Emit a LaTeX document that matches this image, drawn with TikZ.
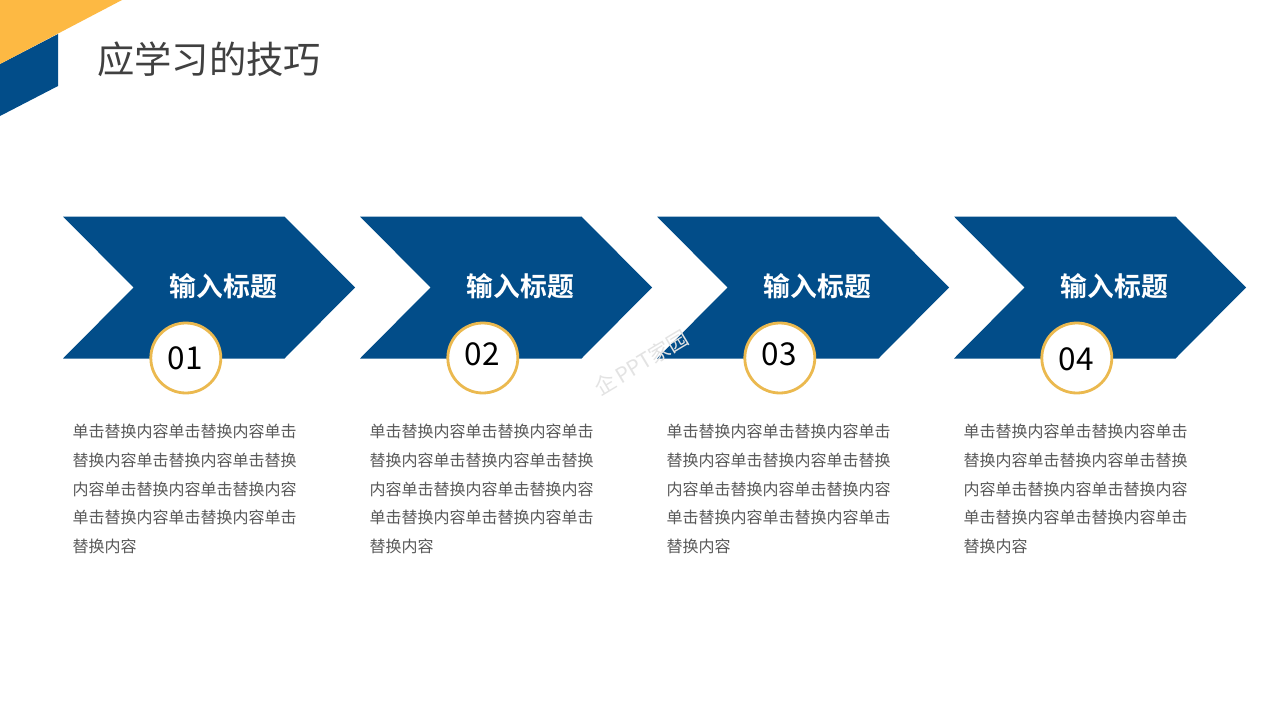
\documentclass[tikz,border=0pt]{standalone}
\usepackage{fontspec}
\setmainfont{Liberation Sans}
\newfontfamily\cjk{Noto Sans CJK SC}
\newfontfamily\cjkb{Noto Sans CJK SC Bold}
\definecolor{navy}{HTML}{024D89}
\definecolor{amber}{HTML}{FDB943}
\definecolor{ring}{HTML}{EBB94F}
\definecolor{ink}{HTML}{404040}
\definecolor{body}{HTML}{595959}
\tikzset{x=1pt,y=-1pt,
  chevron/.style={fill=navy,draw=none},
  heading/.style={text=white,font=\cjkb\fontsize{26.8}{30}\selectfont,inner sep=0pt},
  badge/.style={circle,draw=ring,line width=2.8pt,fill=white,minimum size=70pt,inner sep=0pt},
  num/.style={text=black,font=\cjk\fontsize{31.5}{36}\selectfont,inner sep=0pt},
  bodytext/.style={text=body,font=\cjk\fontsize{16}{28.7}\selectfont,align=left,anchor=north west,inner sep=0pt},
  title/.style={text=ink,font=\cjk\fontsize{37.3}{42}\selectfont,inner sep=0pt,anchor=west},
  watermark/.style={rotate=31,text=black!11,font=\cjk\fontsize{21}{22}\selectfont,inner sep=0pt}
}
\begin{document}
\begin{tikzpicture}
\useasboundingbox (0,0) rectangle (1280,720);
\fill[white] (0,0) rectangle (1280,720);
\fill[navy] (0,64) -- (58,34) -- (58,86) -- (0,116) -- cycle;
\fill[amber] (0,0) -- (122,0) -- (0,64) -- cycle;
\node[title] (pagetitle) at (97,59) {应学习的技巧};
\foreach \i/\dx/\ny in {1/0/358,2/297/354,3/594/354,4/891/359}{
  \fill[chevron,xshift=\dx pt] (63,216.5) -- (284.5,216.5) -- (355,287.5) -- (284.5,358.5) -- (63,358.5) -- (133.5,287.5) -- cycle;
  \node[heading] (head\i) at (223.5+\dx,286.5) {输入标题};
  \node[badge] (circ\i) at (185.8+\dx,358) {};
  \node[num] (num\i) at (185+\dx,\ny) {0\i};
  \node[bodytext] (text\i) at (72.5+\dx,424) {单击替换内容单击替换内容单击\\替换内容单击替换内容单击替换\\内容单击替换内容单击替换内容\\单击替换内容单击替换内容单击\\替换内容};
}
\node[watermark] (mark) at (641,363) {企\,PPT家园};
\end{tikzpicture}
\end{document}
